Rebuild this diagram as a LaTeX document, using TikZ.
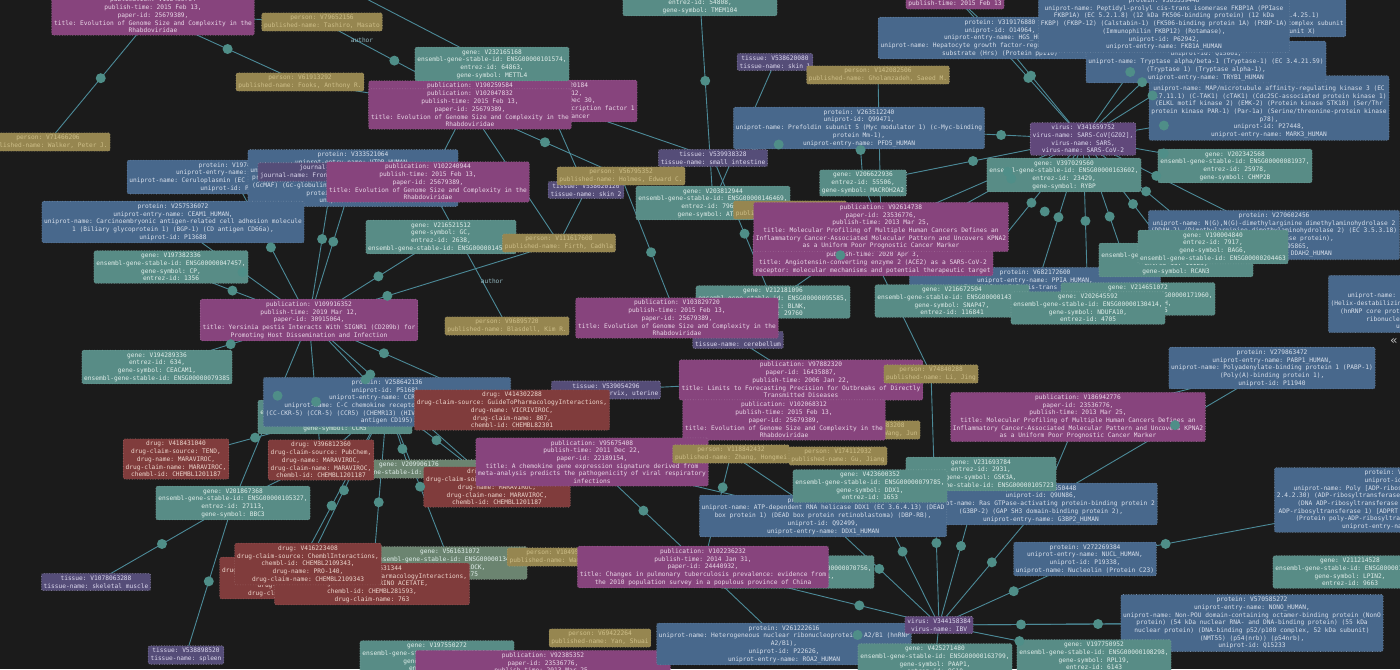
\documentclass[tikz,border=0pt]{standalone}
\usepackage{fontspec}
\setmonofont{DejaVu Sans Mono}
\usepackage{xcolor}
\usepackage{tikz}
\usetikzlibrary{
	calc,           % dots on the connectors
	backgrounds
}
\definecolor{bgc}{HTML}{1B1B1B}
\definecolor{pubc}{HTML}{87447D}
\definecolor{protc}{HTML}{48688C}
\definecolor{genec}{HTML}{588C86}
\definecolor{persc}{HTML}{968650}
\definecolor{drugc}{HTML}{803C3C}
\definecolor{tissc}{HTML}{554D78}
\definecolor{virc}{HTML}{61487B}
\definecolor{selc}{HTML}{6B8470}
\definecolor{edgec}{HTML}{4C8A98}
\definecolor{dotc}{HTML}{4F8E88}
\definecolor{pubt}{HTML}{EAD8E8}
\definecolor{prott}{HTML}{D8E0EC}
\definecolor{genet}{HTML}{E0EEEA}
\definecolor{perst}{HTML}{CDBE88}
\definecolor{drugt}{HTML}{EDD6CC}
\definecolor{tisst}{HTML}{DCD8EE}
\newcommand{\boxfont}{\ttfamily\fontsize{3.1pt}{3.85pt}\selectfont}
\pgfdeclarelayer{bg}
\pgfdeclarelayer{edges}
\pgfsetlayers{bg,edges,main}
\tikzset{
	box/.style={font=\boxfont, align=center, rounded corners=1pt, inner xsep=1.2pt, inner ysep=1.2pt, line width=0.3pt, densely dotted},
	pub/.style={box, fill=pubc, draw=pubc!75!white, text=pubt},
	prot/.style={box, fill=protc, draw=protc!75!white, text=prott},
	gene/.style={box, fill=genec, draw=genec!75!white, text=genet},
	pers/.style={box, fill=persc, draw=persc!80!white, text=perst},
	drug/.style={box, fill=drugc, draw=drugc!75!white, text=drugt},
	tiss/.style={box, fill=tissc, draw=tissc!55!white, text=tisst},
	vir/.style={box, fill=virc, draw=virc!55!white, text=tisst},
	sel/.style={box, fill=selc, draw=selc!55!white, text=genet},
	edge/.style={draw=edgec, line width=0.45pt},
	lbl/.style={font=\boxfont, text=edgec!60!white}
}
% connettore con pallino a 41pt dalla sorgente
\newcommand{\lnk}[3][41pt]{%
	\begin{pgfonlayer}{edges}\draw[edge] (#2.center) -- (#3.center);\end{pgfonlayer}
	\fill[dotc] ($(#2.center)!#1!(#3.center)$) circle (2.5pt);}
% connettore senza pallino
\newcommand{\wire}[2]{%
	\begin{pgfonlayer}{edges}\draw[edge] (#1.center) -- (#2.center);\end{pgfonlayer}}

\begin{document}
\begin{tikzpicture}[x=0.5pt, y=-0.5pt]
	\useasboundingbox (0,0) rectangle (1400,669);
	\begin{pgfonlayer}{bg}\fill[bgc] (0,0) rectangle (1400,669);\end{pgfonlayer}
	
	% --- In alto a sinistra ---
	\node[pub] (P1) at (153,15) {publication: V102450764\\publish-time: 2015 Feb 13,\\paper-id: 25679389,\\title: Evolution of Genome Size and Complexity in the\\Rhabdoviridae};
	\node[pers] (Pe1) at (322,22) {person: V79652156\\published-name: Tashiro, Masato};
	\node[pers] (Pe2) at (300,82) {person: V61913292\\published-name: Fooks, Anthony R.};
	\node[pers] (Pe3) at (48,142) {person: V71466206\\published-name: Walker, Peter J.};
	\node[pub] (P2b) at (547,101) {publication: V94820184\\paper-id: 24376712,\\publish-time: 2013 Dec 30,\\title: Hypoxia-inducible transcription factor 1\\alpha in gastric cancer};
	\node[pub] (P2a) at (470,101) {publication: V190259584\\publish-time: 2015 Feb 13,\\paper-id: 25679389,\\title: Evolution of Genome Size and Complexity in the\\Rhabdoviridae};
	\node[gene] (G1) at (492,64) {gene: V232165168\\ensembl-gene-stable-id: ENSG00000101574,\\entrez-id: 64863,\\gene-symbol: METTL4};
	\node[pub] (P2) at (470,109) {publication: V102047832\\publish-time: 2015 Feb 13,\\paper-id: 25679389,\\title: Evolution of Genome Size and Complexity in the\\Rhabdoviridae};
	\node[gene] (G2) at (700,-1) {gene: V207935544\\ensembl-gene-stable-id: ENSG00000109066,\\entrez-id: 54808,\\gene-symbol: TMEM104};
	\node[tiss] (T1) at (775,62) {tissue: V538620080\\tissue-name: skin 1};
	\node[pers] (Pe4) at (878,75) {person: V142082506\\published-name: Gholamzadeh, Saeed M.};
	\node[prot] (Pr1) at (859,128) {protein: V263512240\\uniprot-id: Q99471,\\uniprot-name: Prefoldin subunit 5 (Myc modulator 1) (c-Myc-binding\\protein Mm-1),\\uniprot-entry-name: PFD5\_HUMAN};
	\node[tiss] (T2) at (713,158) {tissue: V539938328\\tissue-name: small intestine};
	\node[tiss] (T3) at (586,190) {tissue: V538620120\\tissue-name: skin 2};
	\node[pers] (Pe5) at (621,176) {person: V56795352\\published-name: Holmes, Edward C.};
	\node[gene] (G3) at (713,203) {gene: V203812944\\ensembl-gene-stable-id: ENSG00000146469,\\entrez-id: 79682,\\gene-symbol: ATP11A};
	\node[pers] (Pe6) at (790,210) {person: V178820408\\published-name: Zhou, Xiaojun};
	\node[gene] (G4) at (863,183) {gene: V206622936\\entrez-id: 55506,\\gene-symbol: MACROH2A2};
	
	% --- In alto a destra ---
	\node[pub] (P3) at (955,-4) {publication: V102541736,\\paper-id: 25679389,\\publish-time: 2015 Feb 13};
	\node[prot] (Pr2) at (1000,38) {protein: V319176880\\uniprot-id: O14964,\\uniprot-entry-name: HGS\_HUMAN,\\uniprot-name: Hepatocyte growth factor-regulated tyrosine kinase\\substrate (Hrs) (Protein pp110)};
	\node[prot] (Pr3) at (1211,16) {protein: V298806120\\uniprot-id: P28074,\\uniprot-name: Proteasome subunit beta type-5 (EC 3.4.25.1)\\(Macropain epsilon chain) (Multicatalytic endopeptidase complex subunit\\epsilon) (Proteasome subunit MB1) (Proteasome subunit X)};
	\node[prot] (Pr6) at (1269,108) {protein: V281190728\\uniprot-name: MAP/microtubule affinity-regulating kinase 3 (EC\\2.7.11.1) (C-TAK1) (cTAK1) (Cdc25C-associated protein kinase 1)\\(ELKL motif kinase 2) (EMK-2) (Protein kinase STK10) (Ser/Thr\\protein kinase PAR-1) (Par-1a) (Serine/threonine-protein kinase\\p78),\\uniprot-id: P27448,\\uniprot-entry-name: MARK3\_HUMAN};
	\node[prot] (Pr4) at (1206,62) {protein: V305669152\\uniprot-id: Q15661,\\uniprot-name: Tryptase alpha/beta-1 (Tryptase-1) (EC 3.4.21.59)\\(Tryptase 1) (Tryptase alpha-1),\\uniprot-entry-name: TRYB1\_HUMAN};
	\node[prot] (Pr5) at (1164,24) {protein: V303339448\\uniprot-name: Peptidyl-prolyl cis-trans isomerase FKBP1A (PPIase\\FKBP1A) (EC 5.2.1.8) (12 kDa FK506-binding protein) (12 kDa\\FKBP) (FKBP-12) (Calstabin-1) (FK506-binding protein 1A) (FKBP-1A)\\(Immunophilin FKBP12) (Rotamase),\\uniprot-id: P62942,\\uniprot-entry-name: FKB1A\_HUMAN};
	\node[vir] (V1) at (1083,139) {virus: V341659752\\virus-name: SARS-CoV[GZ02],\\virus-name: SARS,\\virus-name: SARS-CoV-2};
	\node[gene] (G5) at (1064,175) {gene: V397029560\\ensembl-gene-stable-id: ENSG00000163602,\\entrez-id: 23429,\\gene-symbol: RYBP};
	\node[gene] (G6) at (1235,166) {gene: V202342568\\ensembl-gene-stable-id: ENSG00000081937,\\entrez-id: 25978,\\gene-symbol: CHMP2B};
	\node[prot] (Pr7) at (1274,235) {protein: V270602456\\uniprot-name: N(G),N(G)-dimethylarginine dimethylaminohydrolase 2\\(DDAH-2) (Dimethylarginine dimethylaminohydrolase 2) (EC 3.5.3.18)\\(Protein G6a) (S-phase protein),\\uniprot-id: O95865,\\uniprot-entry-name: DDAH2\_HUMAN};
	\node[prot] (Pr8) at (1035,292) {protein: V682172600\\uniprot-entry-name: PPIA\_HUMAN,\\uniprot-name: Peptidyl-prolyl cis-trans isomerase A (PPIase A) (EC\\5.2.1.8) (Cyclophilin A) (Cyclosporin A-binding protein)\\(Rotamase A),\\uniprot-id: P62937};
	\node[gene] (G7) at (1176,260) {gene: V214480888\\ensembl-gene-stable-id: ENSG00000117602,\\entrez-id: 11123,\\gene-symbol: RCAN3};
	\node[gene] (G8) at (1213,247) {gene: V190004840\\entrez-id: 7917,\\gene-symbol: BAG6,\\ensembl-gene-stable-id: ENSG00000204463};
	\node[gene] (G9) at (1138,299) {gene: V214651072\\ensembl-gene-stable-id: ENSG00000171960,\\gene-symbol: PPIH,\\entrez-id: 10465};
	\node[gene] (G10) at (952,301) {gene: V216672504\\ensembl-gene-stable-id: ENSG00000143740,\\gene-symbol: SNAP47,\\entrez-id: 116841};
	\node[gene] (G11) at (1088,308) {gene: V202645592\\ensembl-gene-stable-id: ENSG00000130414,\\gene-symbol: NDUFA10,\\entrez-id: 4705};
	\node[prot] (Pr9) at (1452,304) {protein: V264512104\\uniprot-id: P09651,\\uniprot-name: Heterogeneous nuclear ribonucleoprotein A1\\(Helix-destabilizing protein) (Single-strand RNA-binding protein)\\(hnRNP core protein A1) [Cleaved into: Heterogeneous nuclear\\ribonucleoprotein A1, N-terminally processed],\\uniprot-entry-name: ROA1\_HUMAN};
	\node[font=\ttfamily\fontsize{6pt}{6pt}\selectfont, text=white!75!black] (ctl) at (1394,341) {«};
	\node[prot] (Pr10) at (1272,368) {protein: V279863472\\uniprot-entry-name: PABP1\_HUMAN,\\uniprot-name: Polyadenylate-binding protein 1 (PABP-1)\\(Poly(A)-binding protein 1),\\uniprot-id: P11940};
	\node[pub] (P4) at (1078,417) {publication: V186942776\\paper-id: 23536776,\\publish-time: 2013 Mar 25,\\title: Molecular Profiling of Multiple Human Cancers Defines an\\Inflammatory Cancer-Associated Molecular Pattern and Uncovers KPNA2\\as a Uniform Poor Prognostic Cancer Marker};
	\node[pub] (P5b) at (873,255) {publication: V103114952\\paper-id: 32220512,\\publish-time: 2020 Apr 3,\\title: Angiotensin-converting enzyme 2 (ACE2) as a SARS-CoV-2\\receptor: molecular mechanisms and potential therapeutic target};
	\node[pub] (P5) at (881,227) {publication: V92614738\\paper-id: 23536776,\\publish-time: 2013 Mar 25,\\title: Molecular Profiling of Multiple Human Cancers Defines an\\Inflammatory Cancer-Associated Molecular Pattern and Uncovers KPNA2\\as a Uniform Poor Prognostic Cancer Marker};
	
	% --- Centro ---
	\node[prot] (Pr12) at (234,177) {protein: V197419640\\uniprot-entry-name: CERU\_HUMAN,\\uniprot-name: Ceruloplasmin (EC 1.16.3.1) (Ferroxidase),\\uniprot-id: P00450};
	\node[prot] (Pr11) at (353,178) {protein: V333521064\\uniprot-entry-name: VTDB\_HUMAN,\\uniprot-name: Vitamin D-binding protein (DBP) (VDB) (Gc\\protein-derived macrophage activating factor) (Gc-MAF)\\(GcMAF) (Gc-globulin) (Group-specific component) (Gc),\\protein-related sequence,\\uniprot-id: P02774};
	\node[tiss] (J1) at (333,172) {journal: V90447216\\journal-name: Frontiers in Microbiology};
	\node[pub] (P6) at (428,182) {publication: V102240944\\publish-time: 2015 Feb 13,\\paper-id: 25679389,\\title: Evolution of Genome Size and Complexity in the\\Rhabdoviridae};
	\node[prot] (Pr13) at (173,222) {protein: V257536072\\uniprot-entry-name: CEAM1\_HUMAN,\\uniprot-name: Carcinoembryonic antigen-related cell adhesion molecule\\1 (Biliary glycoprotein 1) (BGP-1) (CD antigen CD66a),\\uniprot-id: P13688};
	\node[gene] (G12) at (171,267) {gene: V197382336\\ensembl-gene-stable-id: ENSG00000047457,\\gene-symbol: CP,\\entrez-id: 1356};
	\node[gene] (G13) at (441,237) {gene: V216521512\\gene-symbol: GC,\\entrez-id: 2638,\\ensembl-gene-stable-id: ENSG00000145321};
	\node[pers] (Pe7) at (559,243) {person: V111617608\\published-name: Firth, Cadhla};
	\node[pers] (Pe8) at (507,326) {person: V96895720\\published-name: Blasdell, Kim R.};
	\node[lbl] (au1) at (362,40) {author};
	\node[lbl] (au2) at (492,281) {author};
	\node[pub] (P7) at (309,320) {publication: V109916352\\publish-time: 2019 Mar 12,\\paper-id: 30915064,\\title: Yersinia pestis Interacts With SIGNR1 (CD209b) for\\Promoting Host Dissemination and Infection};
	\node[gene] (G14) at (773,302) {gene: V212181096\\ensembl-gene-stable-id: ENSG00000095585,\\gene-symbol: BLNK,\\entrez-id: 29760};
	\node[tiss] (T4) at (738,340) {tissue: V538760504\\tissue-name: cerebellum};
	\node[pub] (P8) at (677,318) {publication: V103829720\\publish-time: 2015 Feb 13,\\paper-id: 25679389,\\title: Evolution of Genome Size and Complexity in the\\Rhabdoviridae};
	\node[gene] (G15) at (157,367) {gene: V194289336\\entrez-id: 634,\\gene-symbol: CEACAM1,\\ensembl-gene-stable-id: ENSG00000079385};
	\node[gene] (G24) at (335,417) {gene: V213450656\\ensembl-gene-stable-id: ENSG00000160791,\\entrez-id: 1234,\\gene-symbol: CCR5};
	\node[prot] (Pr14) at (387,402) {protein: V258642136\\uniprot-id: P51681,\\uniprot-entry-name: CCR5\_HUMAN,\\uniprot-name: C-C chemokine receptor type 5 (C-C CKR-5)\\(CC-CKR-5) (CCR-5) (CCR5) (CHEMR13) (HIV-1 fusion coreceptor) (CD\\antigen CD195)};
	\node[tiss] (T5) at (606,390) {tissue: V539054296\\tissue-name: cervix, uterine};
	\node[drug] (D1) at (512,410) {drug: V414302288\\drug-claim-source: GuideToPharmacologyInteractions,\\drug-name: VICRIVIROC,\\drug-claim-name: 807,\\chembl-id: CHEMBL82301};
	\node[pub] (P9) at (801,380) {publication: V97882320\\paper-id: 16435887,\\publish-time: 2006 Jan 22,\\title: Limits to Forecasting Precision for Outbreaks of Directly\\Transmitted Diseases};
	\node[pers] (Pe9) at (931,374) {person: V74840288\\published-name: Li, Jing};
	\node[pers] (Pe10) at (871,430) {person: V175683208\\published-name: Wang, Jun};
	\node[pub] (P10) at (784,420) {publication: V102068312\\publish-time: 2015 Feb 13,\\paper-id: 25679389,\\title: Evolution of Genome Size and Complexity in the\\Rhabdoviridae};
	
	% --- In basso a sinistra ---
	\node[drug] (D2) at (176,459) {drug: V418431040\\drug-claim-source: TEND,\\drug-name: MARAVIROC,\\drug-claim-name: MARAVIROC,\\chembl-id: CHEMBL1201187};
	\node[sel] (S1) at (409,469) {gene: V209906176\\ensembl-gene-stable-id: ENSG00000115687};
	\node[drug] (D3) at (321,460) {drug: V396812360\\drug-claim-source: PubChem,\\drug-name: MARAVIROC,\\drug-claim-name: MARAVIROC,\\chembl-id: CHEMBL1201187};
	\node[drug] (D4) at (497,487) {drug: V415734312\\drug-claim-source: ChemblInteractions,\\drug-name: MARAVIROC,\\drug-claim-name: MARAVIROC,\\chembl-id: CHEMBL1201187};
	\node[pub] (P11) at (592,462) {publication: V95675408\\publish-time: 2011 Dec 22,\\paper-id: 22189154,\\title: A chemokine gene expression signature derived from\\meta-analysis predicts the pathogenicity of viral respiratory\\infections};
	\node[pers] (Pe11) at (731,454) {person: V118842432\\published-name: Zhang, Hongmei};
	\node[pers] (Pe12) at (838,456) {person: V174112932\\published-name: Gu, Jiang};
	\node[gene] (G16) at (233,503) {gene: V201867368\\ensembl-gene-stable-id: ENSG00000105327,\\entrez-id: 27113,\\gene-symbol: BBC3};
	\node[sel] (S2) at (450,563) {gene: V561631072\\ensembl-gene-stable-id: ENSG00000134852,\\gene-symbol: CLOCK,\\entrez-id: 9575};
	\node[drug] (D6) at (293,578) {drug: V415998184\\drug-claim-source: ChemblInteractions,\\chembl-id: CHEMBL2109343,\\drug-name: PRO-140,\\drug-claim-name: PRO-140};
	\node[drug] (D7) at (372,584) {drug: V418631344\\drug-claim-source: GuideToPharmacologyInteractions,\\drug-name: APLAVIRINO ACETATE,\\chembl-id: CHEMBL281593,\\drug-claim-name: 763};
	\node[drug] (D5) at (308,564) {drug: V416223408\\drug-claim-source: ChemblInteractions,\\chembl-id: CHEMBL2109343,\\drug-name: PRO-140,\\drug-claim-name: CHEMBL2109343};
	\node[tiss] (T6) at (96,582) {tissue: V1078063288\\tissue-name: skeletal muscle};
	\node[tiss] (T7) at (186,655) {tissue: V538898520\\tissue-name: spleen};
	\node[gene] (G17) at (437,657) {gene: V197550272\\ensembl-gene-stable-id: ENSG00000120738,\\gene-symbol: EGR1,\\entrez-id: 1958};
	\node[pub] (P12) at (543,675) {publication: V92385352\\paper-id: 23536776,\\publish-time: 2013 Mar 25,\\title: Molecular Profiling of Multiple Human Cancers Defines an\\Inflammatory Cancer-Associated Molecular Pattern and Uncovers KPNA2\\as a Uniform Poor Prognostic Cancer Marker};
	\node[pers] (Pe13) at (600,638) {person: V69422264\\published-name: Yan, Shuai};
	
	% --- In basso a destra ---
	\node[pers] (Pe14) at (560,557) {person: V104958216\\published-name: Wang, Lixia};
	\node[gene] (G18) at (797,572) {gene: V211307752\\ensembl-gene-stable-id: ENSG00000070756,\\gene-symbol: PABPC1,\\entrez-id: 26986};
	\node[pub] (P13) at (703,567) {publication: V102236232\\publish-time: 2014 Jan 31,\\paper-id: 24440932,\\title: Changes in pulmonary tuberculosis prevalence: evidence from\\the 2010 population survey in a populous province of China};
	\node[prot] (Pr16) at (1041,504) {protein: V275650448\\uniprot-id: Q9UN86,\\uniprot-name: Ras GTPase-activating protein-binding protein 2\\(G3BP-2) (GAP SH3 domain-binding protein 2),\\uniprot-entry-name: G3BP2\_HUMAN};
	\node[gene] (G20) at (981,474) {gene: V231693784\\entrez-id: 2931,\\gene-symbol: GSK3A,\\ensembl-gene-stable-id: ENSG00000105723};
	\node[prot] (Pr15) at (823,516) {protein: V290336656\\uniprot-name: ATP-dependent RNA helicase DDX1 (EC 3.6.4.13) (DEAD\\box protein 1) (DEAD box protein retinoblastoma) (DBP-RB),\\uniprot-id: Q92499,\\uniprot-entry-name: DDX1\_HUMAN};
	\node[gene] (G19) at (870,486) {gene: V423600352\\ensembl-gene-stable-id: ENSG00000079785,\\gene-symbol: DDX1,\\entrez-id: 1653};
	\node[prot] (Pr17) at (1085,559) {protein: V272269384\\uniprot-entry-name: NUCL\_HUMAN,\\uniprot-id: P19338,\\uniprot-name: Nucleolin (Protein C23)};
	\node[prot] (Pr18) at (1400,500) {protein: V260835752\\uniprot-id: P09874,\\uniprot-name: Poly [ADP-ribose] polymerase 1 (PARP-1) (EC\\2.4.2.30) (ADP-ribosyltransferase diphtheria toxin-like 1) (ARTD1)\\(DNA ADP-ribosyltransferase PARP1) (EC 2.4.2.-) (NAD(+)\\ADP-ribosyltransferase 1) [ADPRT 1] (Poly[ADP-ribose] synthase 1)\\(Protein poly-ADP-ribosyltransferase PARP1) (EC 2.4.2.-)\\uniprot-entry-name: PARP1\_HUMAN};
	\node[gene] (G21) at (1350,572) {gene: V211214528\\ensembl-gene-stable-id: ENSG00000101577,\\gene-symbol: LPIN2,\\entrez-id: 9663};
	\node[prot] (Pr19) at (1252,623) {protein: V570585272\\uniprot-entry-name: NONO\_HUMAN,\\uniprot-name: Non-POU domain-containing octamer-binding protein (NonO\\protein) (54 kDa nuclear RNA- and DNA-binding protein) (55 kDa\\nuclear protein) (DNA-binding p52/p100 complex, 52 kDa subunit)\\(NMT55) (p54(nrb)) (p54nrb),\\uniprot-id: Q15233};
	\node[prot] (Pr20) at (784,644) {protein: V261222616\\uniprot-name: Heterogeneous nuclear ribonucleoproteins A2/B1 (hnRNP\\A2/B1),\\uniprot-id: P22626,\\uniprot-entry-name: ROA2\_HUMAN};
	\node[gene] (G23) at (935,660) {gene: V425271480\\ensembl-gene-stable-id: ENSG00000163799,\\gene-symbol: PAAP1,\\entrez-id: 9610};
	\node[vir] (V2) at (939,625) {virus: V344158384\\virus-name: IBV};
	\node[gene] (G22) at (1094,656) {gene: V197750952\\ensembl-gene-stable-id: ENSG00000108298,\\gene-symbol: RPL19,\\entrez-id: 6143};
	
	% --- Connettori ---
	\coordinate (o1) at (330,-20);
	\lnk{P1}{Pe3}
	\lnk{P1}{Pe2}
	\wire{P1}{Pe1}
	\wire{Pe2}{P2}
	\lnk{Pe1}{P2a}
	\wire{o1}{G1}
	\lnk{P2}{Pe5}
	\wire{P2}{Pe7}
	\wire{P2a}{P6}
	\wire{P2b}{T2}
	\wire{P2b}{T3}
	\lnk{Pe5}{P8}
	\wire{T3}{Pe7}
	\lnk{G2}{G3}
	\wire{T1}{G3}
	\wire{Pe4}{P5}
	\lnk{Pr1}{T2}
	\lnk{T2}{G14}
	\lnk[0.4]{Pr1}{G4}
	\wire{G4}{P5}
	\lnk[0.5]{G4}{V1}
	% virus SARS
	\foreach \t in {Pr2,Pr5,Pr4,Pr6,Pr1,G5,G6,Pr7,G8,G7,Pr8,G9,G11,G10,P5,P5b,P3,Pr3}{\lnk{V1}{\t}}
	\wire{Pr10}{P4}
	\lnk[0.58]{Pr16}{Pr10}
	\wire{P4}{Pr16}
	\lnk{Pr17}{Pr18}
	% virus IBV
	\foreach \t in {Pr15,G19,G20,Pr16,Pr17,Pr19,Pr20,P13,G22,Pe9}{\lnk{V2}{\t}}
	\wire{V2}{G23}
	\lnk[77pt]{Pr19}{V2}
	\wire{P13}{Pr20}
	\lnk{P13}{P11}
	\lnk{P13}{Pe11}
	\wire{Pe11}{Pr15}
	\wire{P11}{Pr15}
	\wire{T5}{P9}
	\wire{T4}{P9}
	\wire{P10}{P11}
	\lnk{G14}{P5}
	\wire{P5b}{Pe9}
	\wire{Pe8}{P6}
	% pubblicazione Yersinia
	\foreach \t in {Pr12,J1,Pr11,G13,Pe7,Pr13,G12,G15,G16,D3,D4,D1,Pr14}{\lnk{P7}{\t}}
	\lnk{D2}{Pr14}
	\wire{D3}{Pr14}
	\lnk{D5}{Pr14}
	\lnk{D6}{Pr14}
	\lnk{D7}{Pr14}
	\wire{D1}{Pr14}
	\lnk[0.3]{S1}{Pr14}
	\lnk[0.55]{D4}{Pr14}
	\lnk{S2}{Pr14}
	\lnk{G16}{T6}
	\lnk{G16}{T7}
	\wire{G16}{D3}
	\wire{P3}{Pr2}
\end{tikzpicture}
\end{document}
